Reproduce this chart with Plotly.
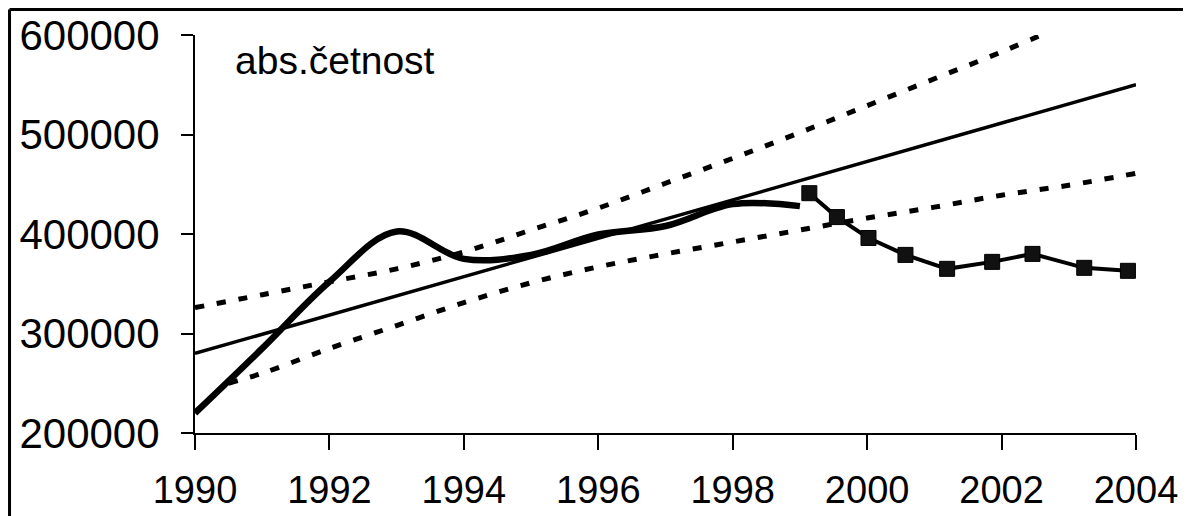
import plotly.graph_objects as go

# observed yearly absolute counts (smoothed curve)
obs_years = [1990, 1991, 1992, 1993, 1994, 1995, 1996, 1997, 1998, 1999]
obs_values = [220000, 285000, 352000, 402500, 375000, 379000, 399500, 408000, 430000, 428000]

# later series with square markers
mk_years = [1999.14, 1999.55, 2000.02, 2000.57, 2001.19, 2001.86, 2002.46, 2003.23, 2003.88]
mk_values = [441000, 417000, 396000, 379000, 365000, 372000, 380000, 366000, 363000]

# linear trend
trend_years = [1990, 2004]
trend_values = [280000, 550000]

# upper bound (dotted)
up_years = [1990, 1991, 1992, 1993, 1994, 1995, 1996, 1997, 1998, 1999, 2000, 2001, 2002, 2003]
up_values = [326000, 339000, 352000, 365000, 382000, 404000, 426000, 451000, 476000, 502000,
             529000, 556000, 583000, 612000]

# lower bound (dotted)
lo_years = [1990.5, 1991, 1992, 1993, 1994, 1995, 1996, 1997, 1998, 1999, 2000, 2001, 2002, 2003, 2004]
lo_values = [250000, 260000, 285000, 308000, 331000, 351000, 367000, 380000, 392000, 404000,
             416000, 427000, 439000, 449000, 461000]

x_ticks = [1990, 1992, 1994, 1996, 1998, 2000, 2002, 2004]
y_ticks = [200000, 300000, 400000, 500000, 600000]

FONT = "Liberation Sans, Arial, sans-serif"

fig = go.Figure()
fig.add_trace(go.Scatter(x=trend_years, y=trend_values, mode="lines",
                         line=dict(color="black", width=3.5), showlegend=False))
fig.add_trace(go.Scatter(x=up_years, y=up_values, mode="lines",
                         line=dict(color="black", width=5, dash="9px,13px", shape="spline"),
                         showlegend=False))
fig.add_trace(go.Scatter(x=lo_years, y=lo_values, mode="lines",
                         line=dict(color="black", width=5, dash="9px,13px", shape="spline"),
                         showlegend=False))
fig.add_trace(go.Scatter(x=obs_years, y=obs_values, mode="lines",
                         line=dict(color="black", width=6.5, shape="spline", smoothing=1.0),
                         showlegend=False))
fig.add_trace(go.Scatter(x=mk_years, y=mk_values, mode="lines+markers",
                         line=dict(color="black", width=4),
                         marker=dict(symbol="square", size=15, color="#111111",
                                     line=dict(color="black", width=1)),
                         showlegend=False))

fig.add_annotation(x=0.04, y=0.935, xref="paper", yref="paper", text="abs.četnost",
                   showarrow=False, xanchor="left", yanchor="middle",
                   font=dict(family=FONT, size=39, color="black"))

# frame (top and left edges of the scanned picture)
fig.add_shape(type="line", xref="paper", yref="paper", x0=-0.1971, x1=1.2, y0=1.0641, y1=1.0641,
              line=dict(color="black", width=3))
fig.add_shape(type="line", xref="paper", yref="paper", x0=-0.1971, x1=-0.1971, y0=1.0641, y1=-0.3,
              line=dict(color="black", width=3))

fig.update_xaxes(range=[1990, 2004], tickvals=x_ticks, ticktext=[str(v) for v in x_ticks],
                 showgrid=False, zeroline=False, showline=True, linecolor="black", linewidth=2,
                 ticks="outside", ticklen=15, tickwidth=2, tickcolor="black",
                 ticklabelstandoff=7, automargin=False,
                 tickfont=dict(family=FONT, size=38, color="black"))
fig.update_yaxes(range=[200000, 600000], tickvals=y_ticks, ticktext=[str(v) for v in y_ticks],
                 showgrid=False, zeroline=False, showline=True, linecolor="black", linewidth=2,
                 ticks="outside", ticklen=12, tickwidth=2, tickcolor="black",
                 ticklabelstandoff=13, automargin=False,
                 tickfont=dict(family=FONT, size=42, color="black"))

fig.update_layout(width=1183, height=508, margin=dict(l=187, r=55, t=27, b=83),
                  paper_bgcolor="white", plot_bgcolor="white")

fig.write_html("out.html")
